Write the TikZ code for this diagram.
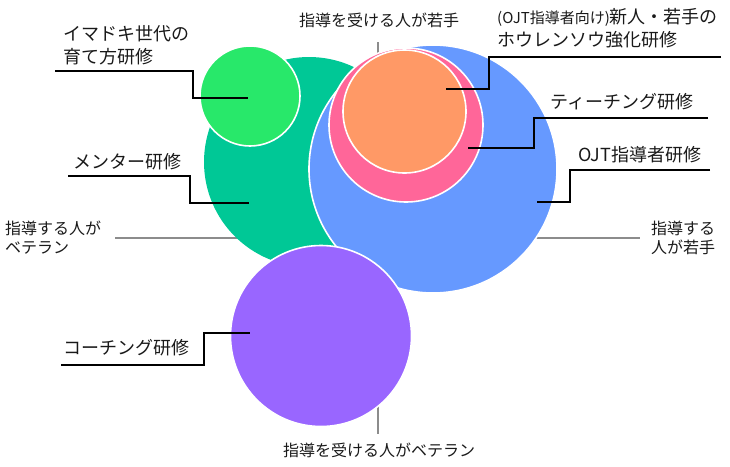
\documentclass[tikz,border=0pt]{standalone}
\usepackage{fontspec}
\newfontfamily\jp{Noto Sans CJK JP}
\definecolor{cgreen}{HTML}{28E86A}
\definecolor{cteal}{HTML}{00C896}
\definecolor{cblue}{HTML}{6699FF}
\definecolor{cpink}{HTML}{FF6699}
\definecolor{corange}{HTML}{FF9966}
\definecolor{cpurple}{HTML}{9966FF}
\definecolor{axisgray}{HTML}{8C8C8C}
\begin{document}
\begin{tikzpicture}[x=1pt,y=-1pt,
  bubble/.style={circle, draw=white, line width=1.6pt, inner sep=0pt},
  axisline/.style={draw=axisgray, line width=2pt},
  callout/.style={draw=black, line width=2pt},
  biglabel/.style={inner sep=0pt, font=\jp\fontsize{18}{23}\selectfont, align=left, anchor=west, text=black!90},
  axislabel/.style={inner sep=0pt, font=\jp\fontsize{16}{19.5}\selectfont, align=left, text=black!90}]
\useasboundingbox (0,0) rectangle (730,466);
% axes
\coordinate (axT) at (378,42);
\coordinate (axB) at (378,434);
\coordinate (axL) at (115,238);
\coordinate (axR) at (640,238);
\draw[axisline] (axT) -- (axB);
\draw[axisline] (axL) -- (axR);
% bubbles
\node[bubble, fill=cteal, draw=none, minimum size=210pt] (teal) at (309,162) {};
\node[bubble, fill=cgreen, minimum size=100pt] (green) at (250,96) {};
\node[bubble, fill=cblue, minimum size=248pt] (blue) at (433,169) {};
\node[bubble, fill=cpink, minimum size=154pt] (pink) at (406,125) {};
\node[bubble, fill=corange, minimum size=123pt] (orange) at (404.5,111.5) {};
\node[bubble, fill=cpurple, minimum size=181pt] (purple) at (321,336) {};
% axis labels
\node[axislabel, anchor=center] (topL) at (379,20) {指導を受ける人が若手};
\node[axislabel, anchor=center] (botL) at (379,450) {指導を受ける人がベテラン};
\node[axislabel, anchor=west] (leftL) at (5,237.5) {指導する人が\\ベテラン};
\node[axislabel, anchor=west] (rightL) at (651,238) {指導する\\人が若手};
% callout labels
\node[biglabel] (lgreen) at (63,45.5) {イマドキ世代の\\育て方研修};
\node[biglabel] (lteal) at (73,162) {メンター研修};
\node[biglabel] (lorange) at (497,28.5) {{\fontsize{15}{23}\selectfont (OJT指導者向け)}新人・若手の\\ホウレンソウ強化研修};
\node[biglabel] (lpink) at (550,102) {ティーチング研修};
\node[biglabel] (lblue) at (578,155) {OJT指導者研修};
\node[biglabel] (lpurple) at (63,348) {コーチング研修};
% callout lines
\coordinate (g0) at (55,71);   \coordinate (g1) at (248,98);
\coordinate (t0) at (68,176);  \coordinate (t1) at (249,203);
\coordinate (o0) at (721,57);  \coordinate (o1) at (446,89);
\coordinate (p0) at (708,118); \coordinate (p1) at (468,148);
\coordinate (b0) at (710,170); \coordinate (b1) at (537,202);
\coordinate (u0) at (61,365);  \coordinate (u1) at (250,333);
\draw[callout] (g0) -- (193,71) -- (193,98) -- (g1);
\draw[callout] (t0) -- (190,176) -- (190,203) -- (t1);
\draw[callout] (o0) -- (489,57) -- (489,89) -- (o1);
\draw[callout] (p0) -- (534,118) -- (534,148) -- (p1);
\draw[callout] (b0) -- (570,170) -- (570,202) -- (b1);
\draw[callout] (u0) -- (204,365) -- (204,333) -- (u1);
\end{tikzpicture}
\end{document}
